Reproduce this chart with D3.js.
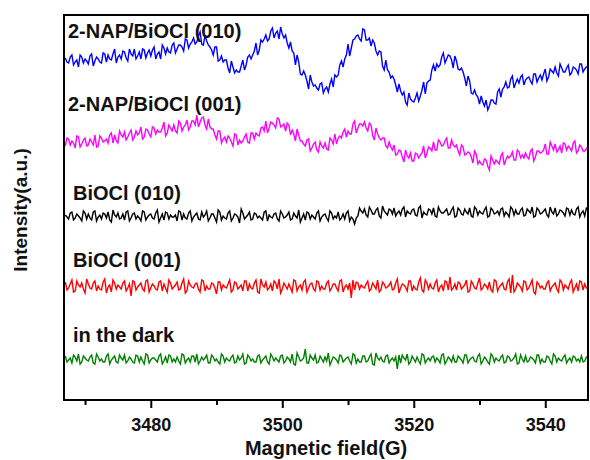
<!DOCTYPE html>
<html>
<head>
<meta charset="utf-8">
<script src="https://cdn.jsdelivr.net/npm/d3@7"></script>
<style>
  body { margin: 0; background: #fff; }
  svg { display: block; font-family: "Liberation Sans", Arial, sans-serif; }
</style>
</head>
<body>
<svg id="chart"></svg>
<script>
// Field axis sampling (G)
const FIELD_START = 3467;
const FIELD_STEP = 0.25;
const X_DOMAIN = [3466.8, 3546.5];
const MAJOR_TICKS = [3480, 3500, 3520, 3540];
const MINOR_TICKS = [3470, 3490, 3510, 3530];

const seriesLabels = ["2-NAP/BiOCl (010)", "2-NAP/BiOCl (001)", "BiOCl (010)", "BiOCl (001)", "in the dark"];
const seriesColors = ["#0000ff", "#ff00ff", "#000000", "#ff0000", "#008000"];
// intensity (a.u.) where each label sits
const labelLevels = [362, 289, 200, 133, 58];

// Spectra (a.u., stacked as plotted), one value every 0.25 G
const nap010 = [
  342,338,337,343,345,335,338,340,333,345,343,337,341,339,336,344,346,334,339,343,
  341,338,337,347,346,338,345,341,340,346,351,337,343,345,341,349,348,342,339,351,
  346,344,351,341,344,348,341,351,350,342,347,350,344,350,353,341,346,348,341,355,
  352,346,352,348,347,355,357,347,351,355,355,353,349,361,360,352,356,358,362,356,
  358,364,368,356,355,365,359,355,353,350,345,353,353,339,340,344,338,340,340,332,
  327,339,333,327,330,328,328,334,340,330,335,343,345,341,345,349,357,345,350,360,
  358,361,365,359,361,369,372,362,367,369,361,373,366,362,365,357,352,358,349,347,
  335,345,338,326,325,329,325,319,311,325,318,314,315,312,310,316,317,307,311,313,
  308,316,321,313,325,323,325,335,339,333,341,345,356,344,352,360,361,364,365,361,
  359,371,370,360,360,362,354,360,357,349,345,349,348,334,330,340,330,328,322,324,
  321,315,308,316,309,305,308,298,295,307,301,299,298,302,307,299,304,310,318,306,
  317,319,320,330,335,329,336,333,335,343,347,337,341,345,344,340,332,344,339,331,
  330,332,328,322,314,324,319,307,306,310,305,303,296,304,298,294,300,290,294,300,
  300,297,296,308,311,303,311,313,318,312,313,321,324,312,317,321,317,323,325,315,
  320,322,323,319,316,326,326,318,322,325,320,326,331,319,323,331,329,327,333,327,
  324,336,332,328,328,332,335,325,327,333,332,330,326,336,336,328,331,333,
  334
];
const nap001 = [
  254,262,261,255,259,257,252,264,263,253,256,260,262,254,255,261,258,255,265,253,
  254,264,262,258,259,261,257,265,267,257,265,259,257,269,265,263,268,260,263,267,
  270,260,263,269,265,267,273,261,263,271,270,266,263,273,272,266,270,268,268,272,
  278,264,267,275,272,269,275,269,267,279,277,269,273,275,280,270,273,279,279,275,
  285,273,278,282,283,275,271,281,273,271,271,265,261,269,269,257,261,263,258,264,
  262,258,254,266,265,255,260,257,259,263,266,258,257,267,267,261,267,265,264,272,
  273,269,279,267,272,278,277,275,272,282,281,273,274,276,269,277,275,265,270,266,
  259,271,265,259,259,256,254,260,261,249,252,256,258,250,248,258,254,252,257,251,
  250,262,260,256,266,256,262,264,262,268,271,263,269,266,266,276,279,267,272,276,
  276,274,278,272,269,277,275,265,260,272,266,262,260,262,262,254,252,258,253,250,
  255,245,246,250,249,243,238,250,244,242,247,239,239,247,246,242,245,247,254,242,
  247,253,252,249,258,250,250,260,258,254,255,259,262,252,252,260,255,253,255,249,
  245,255,253,245,246,248,247,243,237,249,246,236,239,236,235,241,240,234,230,244,
  240,236,240,238,236,244,247,235,240,244,242,244,248,240,240,250,248,242,245,242,
  247,243,241,249,251,239,243,249,249,247,248,250,256,246,246,258,254,250,256,248,
  250,254,247,257,256,250,254,252,249,257,259,247,249,255,253,249,249,251,
  254
];
const bi010 = [
  185,183,181,187,188,180,182,186,184,182,179,189,187,181,186,182,180,188,189,179,
  183,185,181,187,186,182,188,180,178,190,185,183,187,181,182,186,180,188,189,179,
  182,186,187,181,184,182,179,189,188,180,183,185,186,182,181,187,190,178,182,186,
  180,188,187,181,185,183,183,185,179,189,188,180,186,182,181,187,189,179,183,185,
  187,181,180,188,183,185,189,179,182,186,186,182,178,190,188,180,184,182,181,187,
  189,179,182,186,185,183,177,191,187,181,183,185,188,180,181,187,186,182,184,182,
  180,188,189,179,185,183,182,186,187,181,179,189,186,182,183,185,188,180,181,187,
  184,182,190,178,182,186,180,188,187,181,185,183,181,187,189,179,183,185,186,182,
  179,189,187,181,184,182,188,180,182,186,181,187,189,179,183,181,176,182,184,192,
  189,187,191,185,183,193,190,186,186,190,192,184,182,194,189,187,185,191,190,186,
  192,184,187,189,185,191,193,183,189,187,186,190,191,185,184,192,194,182,188,186,
  185,191,190,186,192,184,183,193,189,187,187,189,191,185,186,190,193,183,184,192,
  190,186,185,191,188,186,192,184,183,193,191,185,189,187,186,190,193,183,184,192,
  190,186,187,189,185,191,192,184,188,186,183,193,191,185,190,186,186,190,192,184,
  185,191,189,187,193,183,184,192,190,186,187,189,191,185,183,193,188,186,192,184,
  186,190,189,187,184,192,191,185,190,186,185,191,193,183,187,189,184,192,
  191
];
const bi001 = [
  118,110,112,116,120,108,109,119,115,113,117,111,107,121,116,112,111,117,119,109,
  114,111,110,118,121,107,113,115,108,120,117,111,115,113,111,117,119,109,112,116,
  104,119,118,110,113,115,117,111,109,119,120,108,112,116,114,111,110,118,119,109,
  116,112,108,120,117,111,113,115,118,110,111,117,121,107,109,119,115,113,112,116,
  117,111,108,120,119,109,114,111,111,117,116,112,106,118,118,110,115,113,112,116,
  120,108,110,118,117,111,113,115,109,119,119,109,116,112,111,117,120,108,107,121,
  115,113,118,110,112,116,109,119,117,111,121,107,111,117,114,111,116,112,108,120,
  119,109,113,115,110,118,120,108,112,116,117,111,109,119,118,110,114,111,111,117,
  119,109,112,116,116,112,109,119,120,108,113,115,111,117,102,120,110,118,117,111,
  115,113,112,116,119,109,111,117,114,111,120,108,110,118,116,112,113,115,118,110,
  111,117,121,107,112,116,115,113,109,119,119,109,114,111,110,118,122,110,108,120,
  117,111,116,112,111,117,120,108,113,115,109,119,118,110,123,110,112,116,110,118,
  117,111,113,115,120,108,109,119,116,112,111,117,122,110,112,116,114,111,118,110,
  108,120,119,109,113,115,117,111,110,118,121,107,125,108,111,117,115,113,109,119,
  118,110,112,116,120,108,106,118,116,112,114,111,111,117,119,109,113,115,117,111,
  108,120,118,110,115,113,111,117,120,108,112,116,109,119,118,110,116,112,
  113
];
const dark = [
  44,38,40,42,37,45,43,39,46,36,38,44,42,40,39,43,45,37,36,46,
  43,39,41,38,38,44,46,36,40,42,44,38,37,45,42,40,45,37,39,43,
  41,38,37,45,44,38,43,39,36,46,45,37,40,42,42,40,38,44,46,36,
  39,43,37,45,44,38,41,38,43,39,36,46,45,37,40,42,38,44,44,38,
  46,36,39,43,40,42,45,37,37,45,43,39,41,38,36,46,44,38,42,40,
  39,43,45,37,38,44,40,42,46,36,37,45,43,39,41,38,38,44,45,37,
  40,42,44,38,36,46,43,39,42,40,38,44,45,37,39,43,41,38,46,36,
  35,47,43,39,40,42,51,37,37,45,42,40,45,37,38,44,41,38,43,39,
  47,35,39,43,42,40,37,45,44,38,40,42,43,39,36,46,45,37,41,38,
  38,44,44,38,39,43,46,36,35,47,42,40,43,39,38,44,45,37,40,42,
  39,43,31,45,37,45,42,40,46,36,38,44,41,38,43,39,36,46,45,37,
  40,42,39,43,44,38,42,40,37,45,46,36,39,43,41,38,44,38,38,44,
  42,40,37,45,45,37,40,42,43,39,38,44,46,36,39,43,41,38,36,46,
  44,38,42,40,39,43,45,37,38,44,43,39,40,42,46,36,37,45,41,38,
  44,38,39,43,42,40,37,45,45,37,41,38,38,44,43,39,36,46,44,38,
  42,40,39,43,45,37,40,42,38,44,43,39,41,38,44,38,39,43,
  42
];
const spectra = [nap010, nap001, bi010, bi001, dark];

const width = 590;
const height = 460;
const margin = { top: 15, right: 2, bottom: 60, left: 64 };

const svg = d3.select("#chart").attr("width", width).attr("height", height);

const scaleX = d3.scaleLinear().domain(X_DOMAIN).range([margin.left, width - margin.right]);
const scaleY = d3.scaleLinear().domain([0, 385]).range([height - margin.bottom, margin.top]);

const line = d3.line()
  .x((d, i) => scaleX(FIELD_START + i * FIELD_STEP))
  .y(d => scaleY(d));

svg.append("clipPath").attr("id", "plot-clip")
  .append("rect")
  .attr("x", margin.left).attr("y", margin.top)
  .attr("width", width - margin.left - margin.right)
  .attr("height", height - margin.top - margin.bottom);

svg.append("g")
  .attr("clip-path", "url(#plot-clip)")
  .selectAll("path")
  .data(spectra)
  .join("path")
  .attr("d", line)
  .attr("fill", "none")
  .attr("stroke", (d, i) => seriesColors[i])
  .attr("stroke-width", 1.4);

svg.append("g")
  .selectAll("text")
  .data(seriesLabels)
  .join("text")
  .attr("x", (d, i) => (i < 2 ? 68 : 73))
  .attr("y", (d, i) => scaleY(labelLevels[i]))
  .attr("font-size", 20)
  .attr("font-weight", "bold")
  .attr("fill", "#111")
  .text(d => d);

// frame
svg.append("rect")
  .attr("x", margin.left).attr("y", margin.top)
  .attr("width", width - margin.left - margin.right)
  .attr("height", height - margin.top - margin.bottom)
  .attr("fill", "none")
  .attr("stroke", "#000")
  .attr("stroke-width", 2);

const xAxis = d3.axisBottom(scaleX)
  .tickValues(MAJOR_TICKS)
  .tickSize(8)
  .tickPadding(10)
  .tickFormat(d3.format("d"));

svg.append("g")
  .attr("transform", `translate(0,${height - margin.bottom})`)
  .call(xAxis)
  .call(g => g.select(".domain").remove())
  .call(g => g.selectAll(".tick line").attr("stroke-width", 2))
  .call(g => g.selectAll(".tick text")
    .attr("font-family", "Liberation Sans, Arial, sans-serif")
    .attr("font-size", 18)
    .attr("font-weight", "bold")
    .attr("fill", "#111"));

svg.append("g")
  .attr("transform", `translate(0,${height - margin.bottom})`)
  .call(d3.axisBottom(scaleX).tickValues(MINOR_TICKS).tickSize(5).tickFormat(""))
  .call(g => g.select(".domain").remove())
  .call(g => g.selectAll(".tick line").attr("stroke-width", 2));

svg.append("text")
  .attr("x", (margin.left + width - margin.right) / 2)
  .attr("y", 455)
  .attr("text-anchor", "middle")
  .attr("font-size", 20)
  .attr("font-weight", "bold")
  .attr("fill", "#111")
  .text("Magnetic field(G)");

svg.append("text")
  .attr("transform", "translate(27,210) rotate(-90)")
  .attr("text-anchor", "middle")
  .attr("font-size", 19)
  .attr("font-weight", "bold")
  .attr("fill", "#111")
  .text("Intensity(a.u.)");
</script>
</body>
</html>
